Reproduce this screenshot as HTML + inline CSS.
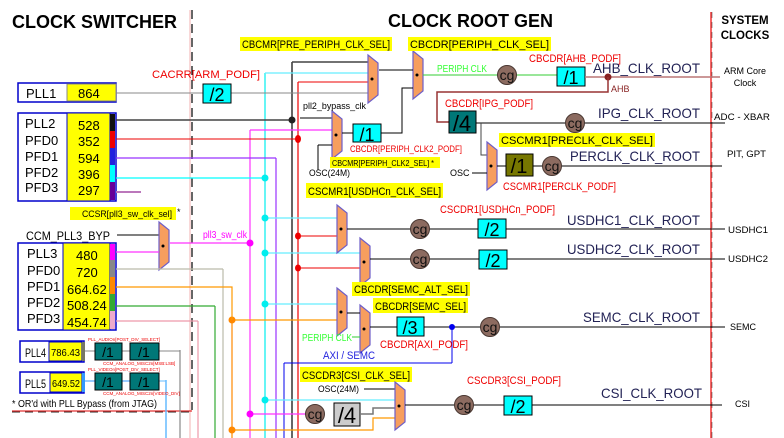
<!DOCTYPE html>
<html><head><meta charset="utf-8"><style>
body{margin:0;background:#fff}
svg{display:block;font-family:"Liberation Sans",sans-serif}
.b{font-weight:bold}
</style></head><body>
<svg width="784" height="438" viewBox="0 0 784 438" xmlns="http://www.w3.org/2000/svg">
<defs>
<g id="mux"><polygon points="0,0 10,8 10,40 0,48" fill="#f79e5e" stroke="#6d5ec9" stroke-width="1.2"/><circle cx="4" cy="24" r="1.5" fill="#000"/></g>
<g id="cg"><circle r="9.5" fill="#8c6b60" stroke="#4a3832" stroke-width="1"/><text x="0" y="5" font-size="14" text-anchor="middle" fill="#111">cg</text></g>
</defs>

<text x="12" y="28" class="b" font-size="18" fill="#000">CLOCK SWITCHER</text>
<text x="388" y="27" class="b" font-size="18" fill="#000">CLOCK ROOT GEN</text>
<text x="745" y="24" class="b" font-size="11.5" text-anchor="middle">SYSTEM</text>
<text x="745" y="39" class="b" font-size="11.5" text-anchor="middle">CLOCKS</text>

<line x1="190" y1="10" x2="190" y2="438" stroke="#f3b0b0" stroke-width="1"/>
<line x1="192" y1="10" x2="192" y2="410" stroke="#000" stroke-width="1.2" stroke-dasharray="9,5"/>
<line x1="711" y1="12" x2="711" y2="438" stroke="#e00" stroke-width="1.2"/>
<line x1="712" y1="12" x2="712" y2="438" stroke="#555" stroke-width="0.6" stroke-dasharray="6,4"/>
<line x1="12" y1="412" x2="192" y2="412" stroke="#555" stroke-width="1.2" stroke-dasharray="8,5"/>
<line x1="12" y1="411" x2="192" y2="411" stroke="#d00" stroke-width="1"/>
<text x="12" y="407" font-size="10.5" fill="#000" textLength="145" lengthAdjust="spacingAndGlyphs">* OR'd with PLL Bypass (from JTAG)</text>

<line x1="292" y1="62" x2="292" y2="438" stroke="#000" stroke-width="1.2"/>
<line x1="292" y1="62" x2="368" y2="62" stroke="#444" stroke-width="1.5"/>
<line x1="298" y1="82" x2="298" y2="438" stroke="#e00" stroke-width="1.2"/>
<line x1="298" y1="82" x2="368" y2="82" stroke="#e00" stroke-width="1"/>
<line x1="265" y1="73" x2="265" y2="438" stroke="#0ee" stroke-width="1.2"/>
<line x1="265" y1="73" x2="368" y2="73" stroke="#6ef" stroke-width="1.2"/>
<line x1="276" y1="158" x2="276" y2="438" stroke="#93f" stroke-width="1.2"/>
<line x1="250" y1="130" x2="250" y2="438" stroke="#f3f" stroke-width="1.2"/>
<line x1="250" y1="130" x2="332" y2="130" stroke="#f3f" stroke-width="1.2"/>
<line x1="232" y1="320" x2="232" y2="438" stroke="#f80" stroke-width="1.2"/>
<line x1="223" y1="269" x2="223" y2="438" stroke="#bba" stroke-width="1.2"/>
<line x1="215" y1="306" x2="215" y2="438" stroke="#3a3" stroke-width="1.2"/>
<line x1="198" y1="321" x2="198" y2="438" stroke="#e9a" stroke-width="1.2"/>
<line x1="180" y1="350" x2="180" y2="438" stroke="#888" stroke-width="1.2"/>
<line x1="166" y1="380" x2="166" y2="438" stroke="#6bf" stroke-width="1.5"/>
<line x1="284" y1="363" x2="284" y2="438" stroke="#00e" stroke-width="1"/>
<line x1="284" y1="363" x2="452" y2="363" stroke="#00e" stroke-width="1"/>

<!-- PLL1 -->
<rect x="18" y="83" width="98" height="19" fill="#fff" stroke="#00c" stroke-width="1.5"/>
<rect x="67" y="84" width="49" height="17" fill="#ff0" stroke="#888" stroke-width="1"/>
<text x="26" y="98" font-size="13">PLL1</text><text x="78" y="98" font-size="13">864</text>
<line x1="116" y1="93" x2="370" y2="93" stroke="#888" stroke-width="1"/>
<rect x="203" y="84" width="28" height="19" fill="#0ff" stroke="#000"/>
<text x="217" y="101" font-size="18" text-anchor="middle">/2</text>
<text x="152" y="78" font-size="11" fill="#e00" textLength="108" lengthAdjust="spacingAndGlyphs">CACRR[ARM_PODF]</text>

<!-- PLL2 -->
<rect x="18" y="113" width="98" height="88" fill="#fff" stroke="#00c" stroke-width="1.5"/>
<rect x="67" y="113" width="43" height="88" fill="#ff0" stroke="#00c" stroke-width="1"/>
<rect x="110" y="114" width="5" height="17" fill="#111"/><rect x="110" y="131" width="5" height="17" fill="#e00"/>
<rect x="110" y="148" width="5" height="17" fill="#22d"/><rect x="110" y="165" width="5" height="17" fill="#0ff"/>
<rect x="110" y="182" width="5" height="18" fill="#609"/>
<g font-size="13"><text x="25" y="128">PLL2</text><text x="25" y="145">PFD0</text><text x="25" y="161">PFD1</text><text x="25" y="177">PFD2</text><text x="25" y="192">PFD3</text>
<text x="78" y="130">528</text><text x="78" y="146">352</text><text x="78" y="163">594</text><text x="78" y="179">396</text><text x="78" y="195">297</text></g>
<line x1="116" y1="120" x2="292" y2="120" stroke="#444" stroke-width="1.5"/><circle cx="292" cy="120" r="3.5" fill="#222"/>
<line x1="116" y1="139" x2="298" y2="139" stroke="#e00" stroke-width="1"/><ellipse cx="298" cy="139" rx="3" ry="4" fill="#e00"/>
<line x1="116" y1="158" x2="276" y2="158" stroke="#93f" stroke-width="1.2"/>
<line x1="116" y1="178" x2="265" y2="178" stroke="#0ff" stroke-width="1.2"/><circle cx="265" cy="178" r="3.5" fill="#0ee"/>
<line x1="116" y1="192" x2="141" y2="192" stroke="#b7b" stroke-width="2"/>

<!-- top muxes -->
<use href="#mux" x="368" y="55"/>
<use href="#mux" x="413" y="51"/>
<line x1="379" y1="70" x2="413" y2="70" stroke="#000"/>
<rect x="240" y="37" width="152" height="14" fill="#ff0"/>
<text x="242" y="48" font-size="11" textLength="148" lengthAdjust="spacingAndGlyphs">CBCMR[PRE_PERIPH_CLK_SEL]</text>
<rect x="408" y="37" width="143" height="14" fill="#ff0"/>
<text x="410" y="48" font-size="11" textLength="139" lengthAdjust="spacingAndGlyphs">CBCDR[PERIPH_CLK_SEL]</text>
<line x1="300" y1="118" x2="332" y2="118" stroke="#000"/>
<use href="#mux" x="332" y="111"/>
<line x1="318" y1="145" x2="332" y2="145" stroke="#000"/><line x1="318" y1="145" x2="318" y2="170" stroke="#000"/>
<line x1="342" y1="133" x2="353" y2="133" stroke="#000"/>
<rect x="353" y="124" width="28" height="18" fill="#0ff" stroke="#000"/>
<text x="367" y="141" font-size="18" text-anchor="middle">/1</text>
<polyline points="381,133 402,133 402,88 413,88" fill="none" stroke="#000"/>
<text x="303" y="109" font-size="9" textLength="63" lengthAdjust="spacingAndGlyphs">pll2_bypass_clk</text>
<text x="350" y="152" font-size="9" fill="#e00" textLength="112" lengthAdjust="spacingAndGlyphs">CBCDR[PERIPH_CLK2_PODF]</text>
<rect x="330" y="157" width="110" height="11" fill="#ff0"/>
<text x="332" y="166" font-size="8.5" textLength="102" lengthAdjust="spacingAndGlyphs">CBCMR[PERIPH_CLK2_SEL] *</text>
<text x="309" y="176" font-size="9" textLength="41" lengthAdjust="spacingAndGlyphs">OSC(24M)</text>

<!-- AHB -->
<text x="437" y="72" font-size="10" fill="#3f3" textLength="50" lengthAdjust="spacingAndGlyphs">PERIPH CLK</text>
<line x1="423" y1="75" x2="557" y2="75" stroke="#3c3"/>
<use href="#cg" x="507" y="75"/>
<rect x="557" y="67" width="28" height="19" fill="#0ff" stroke="#000"/>
<text x="571" y="84" font-size="18" text-anchor="middle">/1</text>
<text x="529" y="62" font-size="11" fill="#e00" textLength="92" lengthAdjust="spacingAndGlyphs">CBCDR[AHB_PODF]</text>
<text x="593" y="73" font-size="14" fill="#225" textLength="107" lengthAdjust="spacingAndGlyphs">AHB_CLK_ROOT</text>
<line x1="585" y1="77" x2="720" y2="77" stroke="#b77" stroke-width="1.5"/>
<circle cx="608" cy="77" r="3.5" fill="#822"/>
<polyline points="608,77 608,92 437,92 437,122 449,122" fill="none" stroke="#933" stroke-width="1.5"/>
<text x="611" y="92" font-size="9" fill="#822">AHB</text>
<text x="745" y="74" font-size="9" text-anchor="middle">ARM Core</text>
<text x="745" y="86" font-size="9" text-anchor="middle">Clock</text>

<!-- IPG -->
<rect x="449" y="111" width="27" height="22" fill="#077" stroke="#000"/>
<text x="462" y="131" font-size="22" text-anchor="middle">/4</text>
<text x="445" y="107" font-size="11" fill="#e00" textLength="88" lengthAdjust="spacingAndGlyphs">CBCDR[IPG_PODF]</text>
<line x1="476" y1="123" x2="725" y2="123" stroke="#000"/>
<use href="#cg" x="575" y="123"/>
<text x="598" y="118" font-size="14" fill="#225" textLength="102" lengthAdjust="spacingAndGlyphs">IPG_CLK_ROOT</text>
<text x="714" y="120" font-size="9" textLength="56" lengthAdjust="spacingAndGlyphs">ADC - XBAR</text>
<polyline points="481,123 481,155 487,155" fill="none" stroke="#444"/>

<!-- PERCLK -->
<use href="#mux" x="487" y="142"/>
<text x="450" y="176" font-size="9">OSC</text>
<line x1="472" y1="173" x2="487" y2="173" stroke="#000"/>
<line x1="497" y1="166" x2="722" y2="166" stroke="#000"/>
<rect x="506" y="154" width="27" height="22" fill="#770" stroke="#000"/>
<text x="519" y="173" font-size="20" text-anchor="middle">/1</text>
<use href="#cg" x="552" y="166"/>
<rect x="499" y="133" width="156" height="14" fill="#ff0"/>
<text x="501" y="144" font-size="11" textLength="152" lengthAdjust="spacingAndGlyphs">CSCMR1[PRECLK_CLK_SEL]</text>
<text x="570" y="161" font-size="14" fill="#225" textLength="130" lengthAdjust="spacingAndGlyphs">PERCLK_CLK_ROOT</text>
<text x="727" y="157" font-size="9" textLength="39" lengthAdjust="spacingAndGlyphs">PIT, GPT</text>
<text x="503" y="190" font-size="11" fill="#e00" textLength="113" lengthAdjust="spacingAndGlyphs">CSCMR1[PERCLK_PODF]</text>

<!-- USDHC -->
<rect x="306" y="183" width="137" height="15" fill="#ff0"/>
<text x="308" y="195" font-size="11" textLength="133" lengthAdjust="spacingAndGlyphs">CSCMR1[USDHCn_CLK_SEL]</text>
<line x1="265" y1="218" x2="337" y2="218" stroke="#6ef" stroke-width="1.2"/><circle cx="265" cy="218" r="3.5" fill="#0ee"/>
<line x1="298" y1="236" x2="337" y2="236" stroke="#e00"/><ellipse cx="298" cy="236" rx="3" ry="3.5" fill="#e00"/>
<line x1="265" y1="253" x2="360" y2="253" stroke="#6ef" stroke-width="1.2"/><circle cx="265" cy="253" r="3.5" fill="#0ee"/>
<line x1="298" y1="268" x2="360" y2="268" stroke="#e00"/><ellipse cx="298" cy="268" rx="3" ry="3.5" fill="#e00"/>
<use href="#mux" x="337" y="205"/>
<use href="#mux" x="360" y="238"/>
<line x1="347" y1="229" x2="725" y2="229" stroke="#000"/>
<line x1="370" y1="259" x2="725" y2="259" stroke="#000"/>
<use href="#cg" x="420" y="229"/><use href="#cg" x="420" y="259"/>
<rect x="478" y="219" width="28" height="19" fill="#0ff" stroke="#000"/><text x="492" y="236" font-size="18" text-anchor="middle">/2</text>
<rect x="479" y="250" width="28" height="19" fill="#0ff" stroke="#000"/><text x="493" y="267" font-size="18" text-anchor="middle">/2</text>
<text x="440" y="213" font-size="11" fill="#e00" textLength="115" lengthAdjust="spacingAndGlyphs">CSCDR1[USDHCn_PODF]</text>
<text x="567" y="225" font-size="14" fill="#225" textLength="133" lengthAdjust="spacingAndGlyphs">USDHC1_CLK_ROOT</text>
<text x="567" y="254" font-size="14" fill="#225" textLength="133" lengthAdjust="spacingAndGlyphs">USDHC2_CLK_ROOT</text>
<text x="728" y="233" font-size="9" textLength="40" lengthAdjust="spacingAndGlyphs">USDHC1</text>
<text x="728" y="262" font-size="9" textLength="40" lengthAdjust="spacingAndGlyphs">USDHC2</text>

<!-- SEMC -->
<rect x="352" y="282" width="118" height="14" fill="#ff0"/>
<text x="354" y="293" font-size="11" textLength="114" lengthAdjust="spacingAndGlyphs">CBCDR[SEMC_ALT_SEL]</text>
<rect x="373" y="298" width="95" height="15" fill="#ff0"/>
<text x="375" y="310" font-size="11" textLength="91" lengthAdjust="spacingAndGlyphs">CBCDR[SEMC_SEL]</text>
<line x1="265" y1="304" x2="337" y2="304" stroke="#6ef" stroke-width="1.2"/><circle cx="265" cy="304" r="3.5" fill="#0ee"/>
<line x1="232" y1="320" x2="337" y2="320" stroke="#f90" stroke-width="1.2"/><circle cx="232" cy="320" r="3.5" fill="#f80"/>
<use href="#mux" x="337" y="288"/>
<use href="#mux" x="360" y="305"/>
<line x1="347" y1="313" x2="360" y2="313" stroke="#000"/>
<text x="302" y="341" font-size="10" fill="#3f3" textLength="50" lengthAdjust="spacingAndGlyphs">PERIPH CLK</text>
<line x1="352" y1="337" x2="360" y2="337" stroke="#3c3"/>
<text x="323" y="359" font-size="11" fill="#22d" textLength="52" lengthAdjust="spacingAndGlyphs">AXI / SEMC</text>
<line x1="370" y1="327" x2="725" y2="327" stroke="#000"/>
<rect x="397" y="317" width="27" height="19" fill="#0ff" stroke="#000"/>
<text x="410" y="334" font-size="18" text-anchor="middle">/3</text>
<line x1="452" y1="327" x2="452" y2="363" stroke="#00e"/><circle cx="452" cy="327" r="3" fill="#00e"/>
<use href="#cg" x="490" y="327"/>
<text x="380" y="348" font-size="11" fill="#e00" textLength="88" lengthAdjust="spacingAndGlyphs">CBCDR[AXI_PODF]</text>
<text x="583" y="322" font-size="14" fill="#225" textLength="117" lengthAdjust="spacingAndGlyphs">SEMC_CLK_ROOT</text>
<text x="730" y="330" font-size="9">SEMC</text>

<!-- CSI -->
<rect x="300" y="367" width="112" height="15" fill="#ff0"/>
<text x="302" y="379" font-size="11" textLength="108" lengthAdjust="spacingAndGlyphs">CSCDR3[CSI_CLK_SEL]</text>
<text x="318" y="392" font-size="9" textLength="41" lengthAdjust="spacingAndGlyphs">OSC(24M)</text>
<line x1="364" y1="389" x2="395" y2="389" stroke="#000"/>
<line x1="265" y1="400" x2="395" y2="400" stroke="#6ef" stroke-width="1.2"/><circle cx="265" cy="400" r="3.5" fill="#0ee"/>
<line x1="250" y1="414" x2="310" y2="414" stroke="#f3f" stroke-width="1.2"/><circle cx="250" cy="414" r="3.5" fill="#f0f"/>
<use href="#cg" x="315" y="414"/>
<rect x="334" y="403" width="26" height="23" fill="#ccc" stroke="#000"/>
<text x="347" y="423" font-size="22" text-anchor="middle">/4</text>
<polyline points="360,414 373,414 373,408 395,408" fill="none" stroke="#777" stroke-width="1.5"/>
<polyline points="232,430 373,430 373,418 395,418" fill="none" stroke="#f90" stroke-width="1.2"/><circle cx="232" cy="430" r="3.5" fill="#f80"/>
<use href="#mux" x="395" y="382"/>
<line x1="405" y1="405" x2="722" y2="405" stroke="#000"/>
<use href="#cg" x="464" y="405"/>
<rect x="504" y="396" width="28" height="19" fill="#0ff" stroke="#000"/>
<text x="518" y="413" font-size="18" text-anchor="middle">/2</text>
<text x="467" y="384" font-size="11" fill="#e00" textLength="94" lengthAdjust="spacingAndGlyphs">CSCDR3[CSI_PODF]</text>
<text x="601" y="398" font-size="14" fill="#225" textLength="101" lengthAdjust="spacingAndGlyphs">CSI_CLK_ROOT</text>
<text x="735" y="407" font-size="9">CSI</text>

<!-- PLL3 -->
<rect x="70" y="207" width="106" height="13" fill="#ff0"/>
<text x="82" y="217" font-size="9" textLength="90" lengthAdjust="spacingAndGlyphs">CCSR[pll3_sw_clk_sel]</text><text x="177" y="215" font-size="9">*</text>
<text x="26" y="240" font-size="12" textLength="84" lengthAdjust="spacingAndGlyphs">CCM_PLL3_BYP</text>
<line x1="117" y1="235" x2="159" y2="235" stroke="#000"/>
<use href="#mux" x="159" y="222"/>
<text x="203" y="238" font-size="10" fill="#f0f" textLength="44" lengthAdjust="spacingAndGlyphs">pll3_sw_clk</text>
<line x1="170" y1="243" x2="250" y2="243" stroke="#f3f" stroke-width="1.2"/><circle cx="250" cy="243" r="3.5" fill="#f0f"/>
<rect x="18" y="243" width="98" height="87" fill="#fff" stroke="#00c" stroke-width="1.5"/>
<rect x="63" y="243" width="47" height="87" fill="#ff0" stroke="#00c" stroke-width="1"/>
<rect x="110" y="244" width="5" height="16" fill="#f0f"/><rect x="110" y="260" width="5" height="17" fill="#888"/>
<rect x="110" y="277" width="5" height="17" fill="#f80"/><rect x="110" y="294" width="5" height="17" fill="#3a3"/>
<rect x="110" y="311" width="5" height="18" fill="#eac"/>
<g font-size="13"><text x="27" y="258">PLL3</text><text x="27" y="275">PFD0</text><text x="27" y="291">PFD1</text><text x="27" y="307">PFD2</text><text x="27" y="323">PFD3</text>
<text x="76" y="260">480</text><text x="76" y="277">720</text><text x="67" y="294">664.62</text><text x="67" y="310">508.24</text><text x="67" y="327">454.74</text></g>
<line x1="116" y1="252" x2="159" y2="252" stroke="#f3f" stroke-width="1.2"/>
<polyline points="116,269 223,269" fill="none" stroke="#bba" stroke-width="1.2"/>
<polyline points="116,287 232,287 232,320" fill="none" stroke="#f90" stroke-width="1.2"/>
<polyline points="116,306 215,306" fill="none" stroke="#3a3" stroke-width="1.2"/>
<polyline points="116,321 198,321" fill="none" stroke="#e9a" stroke-width="1.2"/>

<!-- PLL4/5 -->
<rect x="20" y="341" width="64" height="21" fill="#fff" stroke="#00c" stroke-width="1.5"/>
<rect x="49" y="342" width="33" height="19" fill="#ff0" stroke="#00c"/>
<rect x="82" y="342" width="3" height="19" fill="#776"/>
<text x="25" y="357" font-size="12" textLength="21" lengthAdjust="spacingAndGlyphs">PLL4</text><text x="51" y="356" font-size="10" textLength="29" lengthAdjust="spacingAndGlyphs">786.43</text>
<rect x="20" y="372" width="64" height="21" fill="#fff" stroke="#00c" stroke-width="1.5"/>
<rect x="50" y="373" width="32" height="19" fill="#ff0" stroke="#00c"/>
<rect x="82" y="373" width="3" height="19" fill="#39f"/>
<text x="25" y="388" font-size="12" textLength="21" lengthAdjust="spacingAndGlyphs">PLL5</text><text x="52" y="387" font-size="10" textLength="28" lengthAdjust="spacingAndGlyphs">649.52</text>
<polyline points="85,351 95,351" stroke="#888" fill="none"/><line x1="122" y1="351" x2="130" y2="351" stroke="#888"/>
<polyline points="159,351 180,351" stroke="#888" fill="none"/>
<polyline points="85,381 95,381" stroke="#39f" fill="none"/><line x1="122" y1="381" x2="130" y2="381" stroke="#39f"/>
<polyline points="159,381 166,381" stroke="#6bf" fill="none"/>
<rect x="95" y="343" width="27" height="17" fill="#077" stroke="#000"/><text x="108" y="357" font-size="14" text-anchor="middle">/1</text>
<rect x="130" y="343" width="29" height="17" fill="#077" stroke="#000"/><text x="144" y="357" font-size="14" text-anchor="middle">/1</text>
<rect x="95" y="373" width="27" height="17" fill="#077" stroke="#000"/><text x="108" y="387" font-size="14" text-anchor="middle">/1</text>
<rect x="130" y="373" width="29" height="17" fill="#077" stroke="#000"/><text x="144" y="387" font-size="14" text-anchor="middle">/1</text>
<g font-size="4.5" fill="#e00"><text x="88" y="341">PLL_AUDIOn[POST_DIV_SELECT]</text><text x="103" y="365">CCM_ANALOG_MISC2n[MSB:LSB]</text>
<text x="88" y="371">PLL_VIDEOn[POST_DIV_SELECT]</text><text x="103" y="395">CCM_ANALOG_MISC2n[VIDEO_DIV]</text></g>
</svg>
</body></html>
